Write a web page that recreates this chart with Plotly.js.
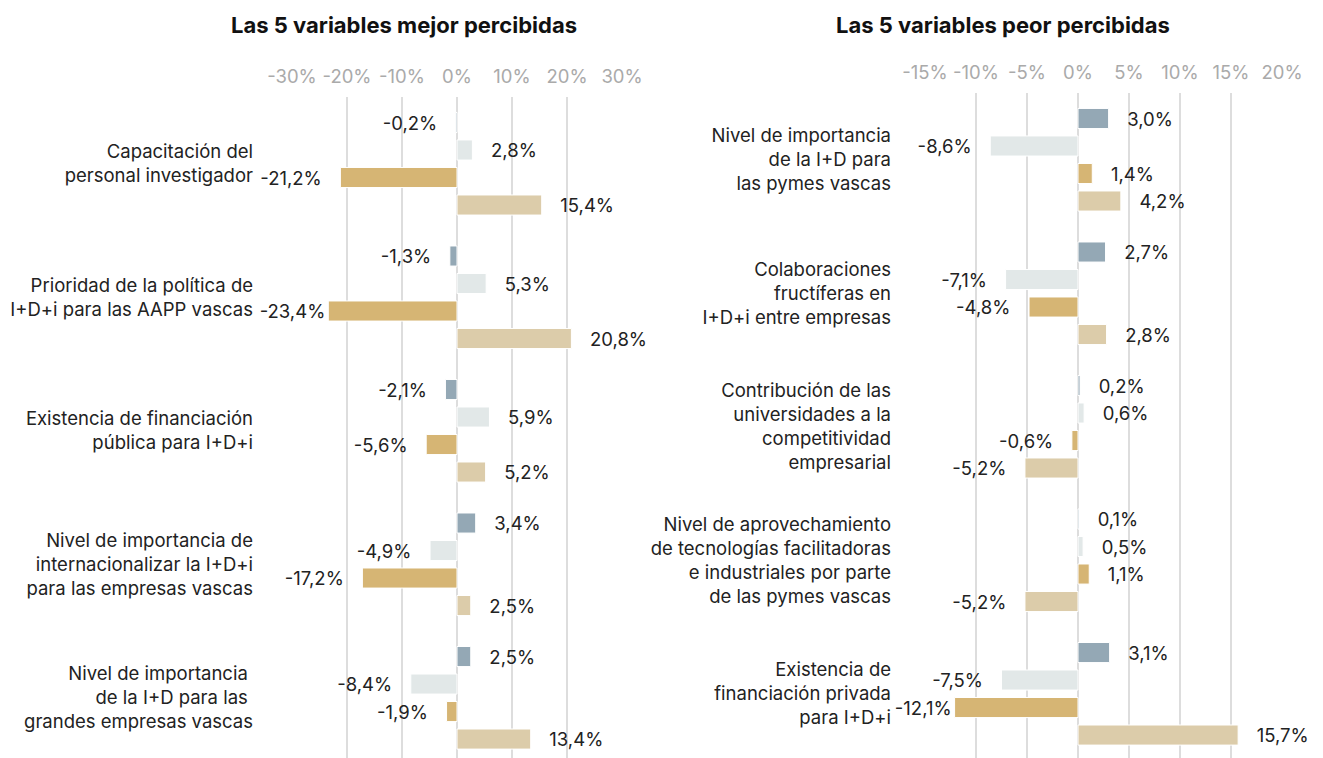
<!DOCTYPE html>
<html><head><meta charset="utf-8">
<script src="https://cdn.plot.ly/plotly-3.0.1.min.js"></script>
<style>html,body{margin:0;padding:0;background:#fff}#chart{width:1323px;height:758px}</style>
</head><body><div id="chart"></div>
<script>
const leftCategories = [
  "Capacitación del<br>personal investigador",
  "Prioridad de la política de<br>I+D+i para las AAPP vascas",
  "Existencia de financiación<br>pública para I+D+i",
  "Nivel de importancia de<br>internacionalizar la I+D+i<br>para las empresas vascas",
  "Nivel de importancia <br>de la I+D para las <br>grandes empresas vascas"
];
const rightCategories = [
  "Nivel de importancia<br>de la I+D para<br>las pymes vascas",
  "Colaboraciones<br>fructíferas en<br>I+D+i entre empresas",
  "Contribución de las<br>universidades a la<br>competitividad<br>empresarial",
  "Nivel de aprovechamiento<br>de tecnologías facilitadoras<br>e industriales por parte<br>de las pymes vascas",
  "Existencia de<br>financiación privada<br>para I+D+i"
];
const seriesNames = ["Serie 1", "Serie 2", "Serie 3", "Serie 4"];
const leftS1 = [-0.2, -1.3, -2.1, 3.4, 2.5];
const leftS2 = [2.8, 5.3, 5.9, -4.9, -8.4];
const leftS3 = [-21.2, -23.4, -5.6, -17.2, -1.9];
const leftS4 = [15.4, 20.8, 5.2, 2.5, 13.4];
const rightS1 = [3.0, 2.7, 0.2, 0.1, 3.1];
const rightS2 = [-8.6, -7.1, 0.6, 0.5, -7.5];
const rightS3 = [1.4, -4.8, -0.6, 1.1, -12.1];
const rightS4 = [4.2, 2.8, -5.2, -5.2, 15.7];
const leftTicks = [-30, -20, -10, 0, 10, 20, 30];
const rightTicks = [-15, -10, -5, 0, 5, 10, 15, 20];
const titles = ["Las 5 variables mejor percibidas", "Las 5 variables peor percibidas"];

const colors = ["#94A8B5", "#E2E8E8", "#D6B574", "#DCCCAA"];
const font = "Inter, Roboto, 'Liberation Sans', sans-serif";
const ranges = [[-30, 30], [-15, 20]];
const pad = "\u00a0\u00a0\u00a0";
function lab(v, rmin){
  const s = v.toFixed(1).replace('.', ',') + '%';
  if (v < 0) {
    // labels of bars reaching close to the axis edge sit tight against the bar
    return (v / rmin > 0.75) ? s : s + pad;
  }
  return pad + s;
}
const traces = [];
[[leftS1,leftS2,leftS3,leftS4],[rightS1,rightS2,rightS3,rightS4]].forEach((set, p) => {
  set.forEach((vals, i) => {
    traces.push({
      type: 'bar', orientation: 'h', name: seriesNames[i],
      x: vals, y: p === 0 ? leftCategories : rightCategories,
      xaxis: p === 0 ? 'x' : 'x2', yaxis: p === 0 ? 'y' : 'y2',
      marker: {color: colors[i], line: {color: '#ffffff', width: 1}},
      text: vals.map(v => lab(v, ranges[p][0])), textposition: 'outside', cliponaxis: false,
      constraintext: 'none',
      textfont: {family: font, size: 18.5, color: '#222'},
      hoverinfo: 'x+y', showlegend: false
    });
  });
});
const tickFmt = t => t + '%';
const layout = {
  width: 1323, height: 758,
  margin: {l: 0, r: 0, t: 0, b: 0},
  paper_bgcolor: '#fff', plot_bgcolor: '#fff',
  barmode: 'group', bargap: 0.176, bargroupgap: 0.27,
  showlegend: false,
  font: {family: font, size: 18.5, color: '#222'},
  xaxis: {domain: [292/1323, 622/1323], range: ranges[0], side: 'top',
    tickvals: leftTicks, ticktext: leftTicks.map(tickFmt),
    showgrid: true, gridcolor: '#dddddd', gridwidth: 1.5, zeroline: false,
    showline: false, ticks: '', ticklabelstandoff: 9,
    tickfont: {family: font, size: 18.5, color: '#aaaaaa'}, fixedrange: true},
  xaxis2: {domain: [925/1323, 1282/1323], range: ranges[1], side: 'top', anchor: 'y2',
    tickvals: rightTicks, ticktext: rightTicks.map(tickFmt),
    showgrid: true, gridcolor: '#dddddd', gridwidth: 1.5, zeroline: false,
    showline: false, ticks: '', ticklabelstandoff: 9,
    tickfont: {family: font, size: 18.5, color: '#aaaaaa'}, fixedrange: true},
  yaxis: {domain: [0, 1 - 97/758], range: [4.451, -0.5], anchor: 'x',
    showgrid: false, zeroline: false, showline: false, ticks: '',
    ticklabelstandoff: 38, tickfont: {family: font, size: 18.5, color: '#222'}},
  yaxis2: {domain: [0, 1 - 93/758], range: [4.481, -0.5], anchor: 'x2',
    showgrid: false, zeroline: false, showline: false, ticks: '',
    ticklabelstandoff: 33, tickfont: {family: font, size: 18.5, color: '#222'}},
  annotations: [
    {text: '<b>' + titles[0] + '</b>', xref: 'paper', yref: 'paper', x: 404/1323, y: 1 - 25/758,
      xanchor: 'center', yanchor: 'middle', showarrow: false, font: {family: font, size: 22, color: '#111'}},
    {text: '<b>' + titles[1] + '</b>', xref: 'paper', yref: 'paper', x: 1003/1323, y: 1 - 25/758,
      xanchor: 'center', yanchor: 'middle', showarrow: false, font: {family: font, size: 22, color: '#111'}}
  ]
};
Plotly.newPlot('chart', traces, layout, {displayModeBar: false, staticPlot: true});
</script></body></html>
